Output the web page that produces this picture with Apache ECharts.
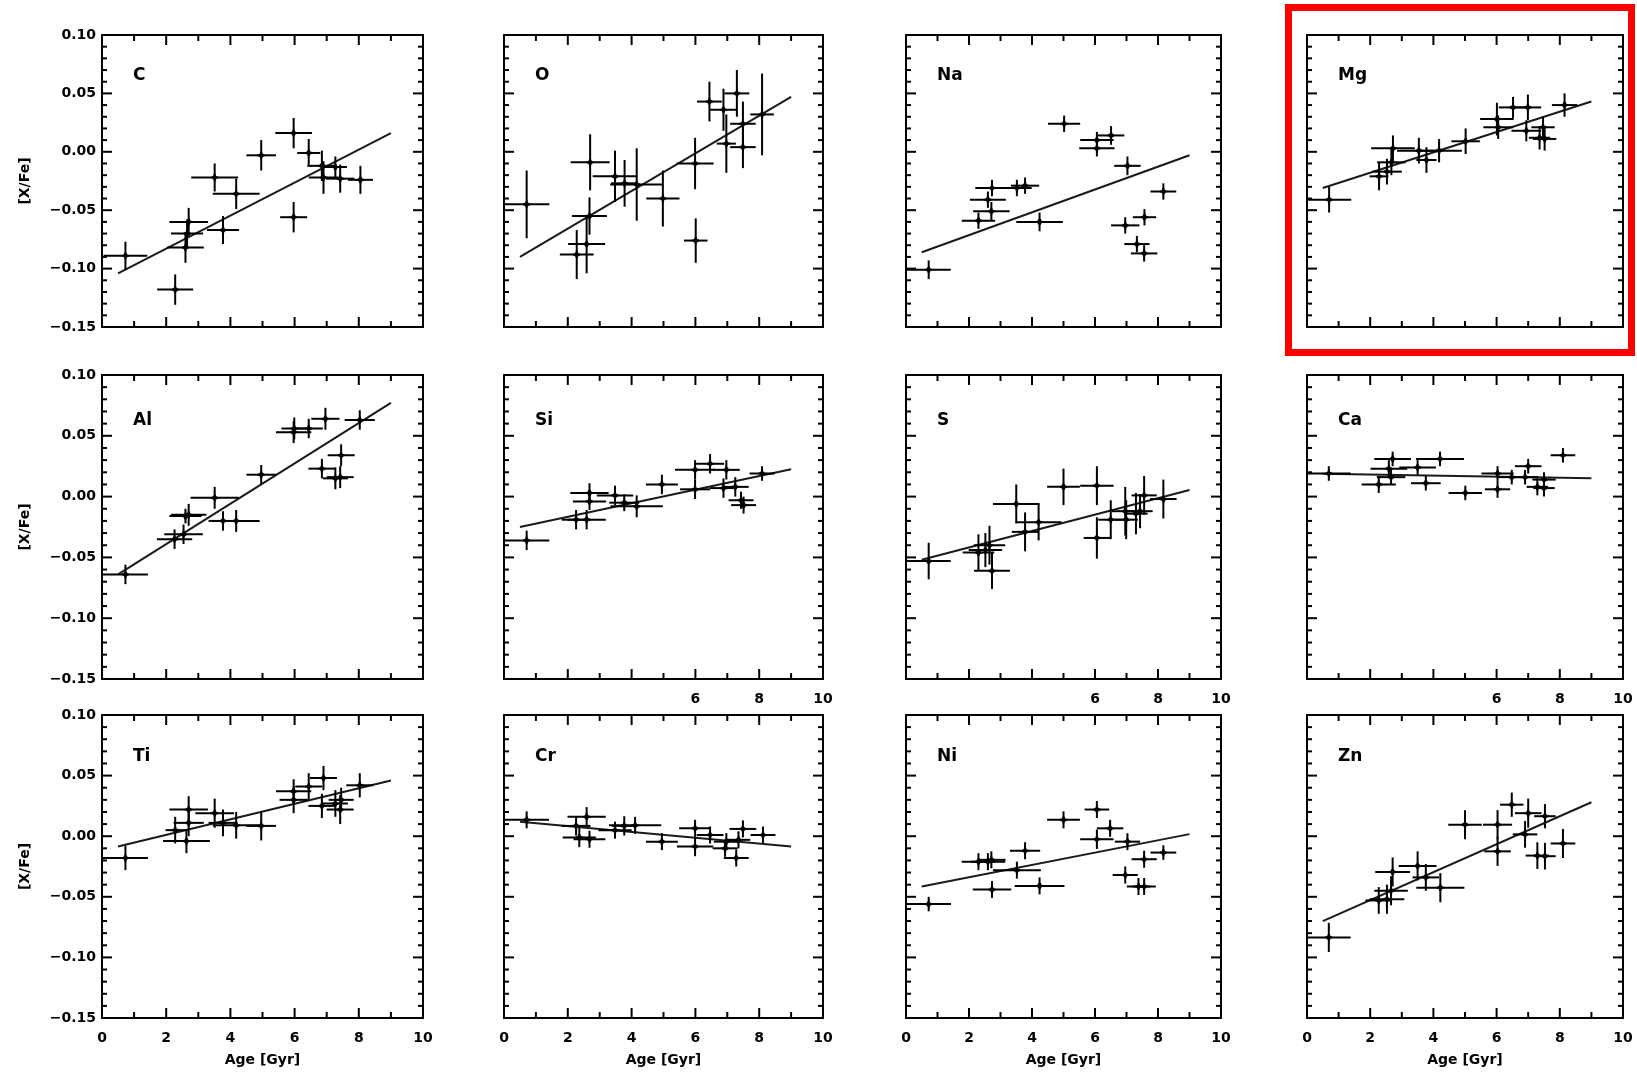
<!DOCTYPE html>
<html><head><meta charset="utf-8">
<script src="https://cdn.jsdelivr.net/npm/echarts@6/dist/echarts.min.js"></script>
<style>html,body{margin:0;padding:0;background:#fff}#c{width:1637px;height:1074px}</style>
</head><body><div id="c"></div><script>
// each point: [age (Gyr), age error, [X/Fe], [X/Fe] error]
const elements = ['C','O','Na','Mg','Al','Si','S','Ca','Ti','Cr','Ni','Zn'];
const xTickLabels = ['0','2','4','6','8','10'];
const yTickLabels = ['\u22120.15','\u22120.10','\u22120.05','0.00','0.05','0.10'];
const xMajorTicks = [0,2,4,6,8,10];
const xMinorTicks = [1,3,5,7,9];
const yMajorTicks = [-0.15,-0.10,-0.05,0.00,0.05,0.10];
const yMinorTicks = [-0.14,-0.13,-0.12,-0.11,-0.09,-0.08,-0.07,-0.06,-0.04,-0.03,-0.02,-0.01,0.01,0.02,0.03,0.04,0.06,0.07,0.08,0.09];

const C_pts = [[0.73,0.68,-0.089,0.012],[2.28,0.56,-0.118,0.013],[2.70,0.60,-0.060,0.012],[2.65,0.50,-0.070,0.012],[2.60,0.57,-0.082,0.013],[3.51,0.73,-0.022,0.012],[4.18,0.73,-0.036,0.013],[3.77,0.50,-0.067,0.012],[4.96,0.46,-0.003,0.013],[5.97,0.57,0.016,0.013],[5.97,0.42,-0.056,0.013],[6.44,0.36,-0.001,0.012],[6.85,0.45,-0.012,0.013],[6.90,0.46,-0.022,0.014],[7.27,0.36,-0.013,0.009],[7.42,0.44,-0.023,0.012],[8.05,0.39,-0.024,0.012]];
const C_fit = [[0.5,-0.104],[9.0,0.016]];
const O_pts = [[0.71,0.71,-0.045,0.029],[2.70,0.61,-0.009,0.024],[2.28,0.53,-0.088,0.021],[2.59,0.58,-0.079,0.025],[2.68,0.55,-0.055,0.016],[3.48,0.70,-0.021,0.022],[3.78,0.42,-0.027,0.020],[4.16,0.83,-0.028,0.031],[4.98,0.52,-0.040,0.024],[5.99,0.58,-0.010,0.022],[6.01,0.37,-0.076,0.019],[6.44,0.39,0.043,0.017],[6.88,0.42,0.036,0.018],[7.30,0.39,0.050,0.020],[6.97,0.30,0.007,0.025],[7.49,0.40,0.024,0.019],[7.49,0.40,0.004,0.018],[8.09,0.37,0.032,0.035]];
const O_fit = [[0.5,-0.090],[9.0,0.047]];
const Na_pts = [[0.72,0.70,-0.101,0.008],[2.30,0.53,-0.059,0.007],[2.60,0.57,-0.041,0.007],[2.71,0.58,-0.051,0.008],[2.73,0.53,-0.031,0.007],[3.52,0.47,-0.031,0.007],[3.78,0.45,-0.029,0.007],[4.24,0.74,-0.060,0.008],[5.02,0.51,0.024,0.007],[6.06,0.53,0.010,0.007],[6.06,0.56,0.003,0.007],[6.51,0.42,0.014,0.008],[7.03,0.42,-0.012,0.008],[6.96,0.45,-0.063,0.007],[7.57,0.37,-0.056,0.007],[7.33,0.40,-0.079,0.007],[7.56,0.42,-0.087,0.007],[8.17,0.41,-0.034,0.007]];
const Na_fit = [[0.5,-0.086],[9.0,-0.003]];
const Mg_pts = [[0.70,0.70,-0.041,0.011],[2.28,0.30,-0.021,0.012],[2.53,0.47,-0.017,0.011],[2.67,0.45,-0.009,0.011],[2.72,0.69,0.003,0.011],[3.54,0.69,0.001,0.011],[3.78,0.32,-0.007,0.011],[4.18,0.72,0.001,0.010],[5.02,0.45,0.009,0.011],[6.01,0.53,0.028,0.014],[6.05,0.47,0.021,0.010],[6.52,0.45,0.038,0.009],[6.99,0.42,0.038,0.011],[6.94,0.47,0.018,0.009],[7.47,0.37,0.021,0.009],[7.36,0.34,0.012,0.010],[7.52,0.37,0.011,0.010],[8.15,0.40,0.040,0.010]];
const Mg_fit = [[0.5,-0.031],[9.0,0.043]];
const Al_pts = [[0.73,0.70,-0.064,0.008],[2.26,0.55,-0.035,0.008],[2.54,0.60,-0.031,0.008],[2.70,0.55,-0.015,0.009],[2.60,0.50,-0.016,0.006],[3.51,0.75,-0.001,0.009],[3.77,0.45,-0.020,0.008],[4.18,0.73,-0.020,0.009],[4.96,0.46,0.018,0.008],[5.97,0.55,0.053,0.009],[5.99,0.40,0.056,0.009],[6.44,0.44,0.056,0.008],[6.96,0.44,0.064,0.009],[6.85,0.42,0.023,0.008],[7.45,0.42,0.034,0.009],[7.27,0.39,0.015,0.009],[7.42,0.42,0.016,0.009],[8.03,0.47,0.063,0.008]];
const Al_fit = [[0.5,-0.064],[9.0,0.077]];
const Si_pts = [[0.71,0.71,-0.036,0.008],[2.26,0.45,-0.019,0.008],[2.59,0.60,-0.019,0.008],[2.68,0.60,0.003,0.008],[2.68,0.52,-0.004,0.007],[3.48,0.57,0.001,0.008],[3.77,0.47,-0.005,0.007],[4.16,0.82,-0.008,0.009],[4.95,0.50,0.010,0.008],[5.99,0.63,0.022,0.008],[5.99,0.47,0.006,0.008],[6.46,0.44,0.027,0.008],[6.97,0.42,0.022,0.008],[6.88,0.42,0.007,0.008],[7.25,0.42,0.008,0.008],[7.43,0.39,-0.003,0.007],[7.51,0.39,-0.007,0.007],[8.09,0.39,0.019,0.006]];
const Si_fit = [[0.5,-0.025],[9.0,0.0225]];
const S_pts = [[0.72,0.70,-0.053,0.015],[2.30,0.50,-0.046,0.015],[2.52,0.53,-0.044,0.014],[2.65,0.50,-0.040,0.016],[2.73,0.57,-0.061,0.015],[3.50,0.74,-0.006,0.016],[3.78,0.42,-0.029,0.016],[4.21,0.73,-0.021,0.015],[5.00,0.52,0.008,0.015],[6.06,0.53,0.009,0.016],[6.06,0.42,-0.034,0.017],[6.50,0.40,-0.019,0.016],[6.96,0.42,-0.012,0.020],[6.99,0.37,-0.019,0.016],[7.30,0.37,-0.014,0.017],[7.43,0.40,-0.012,0.014],[7.56,0.40,0.001,0.016],[8.17,0.42,-0.002,0.016]];
const S_fit = [[0.5,-0.052],[9.0,0.0055]];
const Ca_pts = [[0.69,0.69,0.019,0.006],[2.27,0.54,0.010,0.007],[2.59,0.58,0.023,0.007],[2.71,0.58,0.031,0.006],[2.66,0.45,0.016,0.006],[3.50,0.58,0.024,0.006],[3.76,0.47,0.011,0.006],[4.21,0.76,0.031,0.006],[5.01,0.53,0.003,0.006],[6.03,0.51,0.019,0.006],[6.03,0.40,0.006,0.007],[6.48,0.42,0.016,0.006],[7.00,0.42,0.025,0.006],[6.90,0.42,0.016,0.006],[7.29,0.34,0.008,0.007],[7.50,0.37,0.014,0.006],[7.50,0.34,0.007,0.007],[8.10,0.39,0.034,0.006]];
const Ca_fit = [[0.5,0.0187],[9.0,0.0151]];
const Ti_pts = [[0.73,0.70,-0.018,0.010],[2.28,0.30,0.005,0.011],[2.63,0.73,-0.004,0.010],[2.70,0.60,0.022,0.011],[2.70,0.47,0.011,0.011],[3.51,0.60,0.019,0.012],[3.77,0.45,0.011,0.011],[4.18,0.73,0.009,0.011],[4.96,0.46,0.0085,0.012],[5.97,0.55,0.037,0.010],[5.97,0.44,0.030,0.011],[6.44,0.42,0.041,0.011],[6.90,0.42,0.048,0.010],[6.85,0.42,0.025,0.010],[7.27,0.39,0.027,0.011],[7.42,0.42,0.022,0.012],[7.45,0.39,0.030,0.010],[8.03,0.42,0.042,0.010]];
const Ti_fit = [[0.5,-0.0085],[9.0,0.046]];
const Cr_pts = [[0.71,0.70,0.0135,0.007],[2.26,0.45,0.0085,0.008],[2.59,0.60,0.016,0.008],[2.36,0.52,-0.001,0.008],[2.68,0.50,-0.0025,0.007],[3.48,0.52,0.005,0.007],[3.77,0.39,0.0085,0.008],[4.11,0.82,0.009,0.007],[4.95,0.50,-0.0045,0.007],[5.99,0.50,0.0065,0.007],[5.99,0.57,-0.0085,0.008],[6.46,0.42,0.001,0.007],[6.97,0.39,-0.0045,0.007],[6.93,0.39,-0.010,0.007],[7.28,0.39,-0.018,0.007],[7.49,0.42,0.006,0.007],[7.35,0.37,-0.003,0.007],[8.12,0.39,0.001,0.007]];
const Cr_fit = [[0.5,0.012],[9.0,-0.0085]];
const Ni_pts = [[0.72,0.71,-0.056,0.006],[2.30,0.53,-0.021,0.007],[2.60,0.55,-0.021,0.007],[2.71,0.45,-0.0195,0.007],[2.73,0.61,-0.044,0.007],[3.52,0.76,-0.028,0.007],[3.78,0.48,-0.012,0.007],[4.24,0.79,-0.041,0.007],[5.00,0.52,0.0135,0.007],[6.06,0.39,0.022,0.007],[6.06,0.53,-0.0025,0.008],[6.48,0.42,0.0065,0.007],[7.03,0.40,-0.0045,0.007],[6.96,0.40,-0.032,0.007],[7.38,0.37,-0.0415,0.007],[7.56,0.37,-0.0415,0.007],[7.56,0.40,-0.019,0.007],[8.17,0.41,-0.0135,0.006]];
const Ni_fit = [[0.5,-0.0415],[9.0,0.0017]];
const Zn_pts = [[0.69,0.69,-0.0835,0.012],[2.27,0.42,-0.053,0.011],[2.53,0.55,-0.052,0.012],[2.66,0.53,-0.045,0.012],[2.71,0.55,-0.0295,0.012],[3.50,0.60,-0.0245,0.012],[3.76,0.42,-0.034,0.011],[4.22,0.76,-0.0425,0.012],[5.00,0.53,0.0095,0.012],[6.03,0.46,0.0095,0.012],[6.03,0.42,-0.0125,0.012],[6.48,0.37,0.026,0.010],[7.00,0.42,0.019,0.012],[6.90,0.39,0.0015,0.011],[7.29,0.37,-0.016,0.011],[7.53,0.34,-0.0165,0.011],[7.53,0.34,0.0165,0.010],[8.10,0.39,-0.006,0.012]];
const Zn_fit = [[0.5,-0.070],[9.0,0.028]];

const allPts = [C_pts,O_pts,Na_pts,Mg_pts,Al_pts,Si_pts,S_pts,Ca_pts,Ti_pts,Cr_pts,Ni_pts,Zn_pts];
const allFits = [C_fit,O_fit,Na_fit,Mg_fit,Al_fit,Si_fit,S_fit,Ca_fit,Ti_fit,Cr_fit,Ni_fit,Zn_fit];

const X_MIN = 0, X_MAX = 10, Y_MIN = -0.15, Y_MAX = 0.10;
const colLeft = [102,504,906,1307], colW = [321,319,315,316];
const rowTop = [35,375,715], rowH = [292,304,303];
const labelOff = [32,37,33];
const FONT = 'DejaVu Sans';
const chart = echarts.init(document.getElementById('c'));
const grid = [], xAxis = [], yAxis = [], series = [], title = [];

function renderErr(params, api){
  const x = api.value(0), xe = api.value(1), y = api.value(2), ye = api.value(3);
  const p0 = api.coord([Math.max(X_MIN, x - xe), y]), p1 = api.coord([Math.min(X_MAX, x + xe), y]);
  const q0 = api.coord([x, y - ye]), q1 = api.coord([x, y + ye]);
  const c = api.coord([x, y]);
  const s = 5, w = 1.6;
  return {type:'group', children:[
    {type:'line', shape:{x1:p0[0],y1:p0[1],x2:p1[0],y2:p1[1]}, style:{stroke:'#000',lineWidth:2}},
    {type:'line', shape:{x1:q0[0],y1:q0[1],x2:q1[0],y2:q1[1]}, style:{stroke:'#000',lineWidth:2}},
    {type:'polygon', shape:{points:[[c[0],c[1]-s],[c[0]+w,c[1]-w],[c[0]+s,c[1]],[c[0]+w,c[1]+w],[c[0],c[1]+s],[c[0]-w,c[1]+w],[c[0]-s,c[1]],[c[0]-w,c[1]-w]]}, style:{fill:'#000'}}
  ]};
}

// inward tick marks on all four sides, placed through the panel's own axis scales
function renderTicks(params, api){
  const ch = [];
  const st = {stroke:'#000', lineWidth:2};
  const add = (x1, y1, x2, y2) => ch.push({type:'line', shape:{x1, y1, x2, y2}, style:st});
  const xt = (v, len) => { const b = api.coord([v, Y_MIN]), t = api.coord([v, Y_MAX]);
    add(b[0], b[1], b[0], b[1] - len); add(t[0], t[1], t[0], t[1] + len); };
  const yt = (v, len) => { const l = api.coord([X_MIN, v]), r = api.coord([X_MAX, v]);
    add(l[0], l[1], l[0] + len, l[1]); add(r[0], r[1], r[0] - len, r[1]); };
  xMajorTicks.forEach(v => xt(v, 10));
  xMinorTicks.forEach(v => xt(v, 6));
  yMajorTicks.forEach(v => yt(v, 10));
  yMinorTicks.forEach(v => yt(v, 5));
  return {type:'group', children:ch};
}

function labelFont(){ return {fontSize:14, fontWeight:'bold', color:'#000', fontFamily:FONT}; }

function frameAxis(dim, pos, i, row, col){
  const isX = dim === 'x';
  const primary = (pos === 'bottom' || pos === 'left');
  const o = {gridIndex:i, type:'value', position:pos, z:10};
  if (isX) { o.min = X_MIN; o.max = X_MAX; o.interval = 2; } else { o.min = Y_MIN; o.max = Y_MAX; o.interval = 0.05; }
  o.axisLine = {show:true, onZero:false, lineStyle:{color:'#000', width:2}};
  o.splitLine = {show:false};
  o.axisTick = {show:false};
  if (!primary) { o.axisLabel = {show:false}; return o; }
  const showLab = isX ? (row === 2 || (row === 1 && col > 0)) : col === 0;
  o.axisLabel = Object.assign({show:showLab, margin: isX ? 13 : 6, showMinLabel:true, showMaxLabel:true,
    formatter: isX
      ? (val => { const k = Math.round(val/2); if (row === 1 && k < 3) return ''; return xTickLabels[k]; })
      : (val => yTickLabels[Math.round((val - Y_MIN)/0.05)])}, labelFont());
  const nm = isX ? (row === 2 ? 'Age [Gyr]' : '') : (col === 0 ? '[X/Fe]' : '');
  if (nm) { o.name = nm; o.nameLocation = 'middle'; o.nameGap = isX ? 35 : 70; o.nameTextStyle = labelFont(); }
  return o;
}

elements.forEach((el, i) => {
  const row = Math.floor(i/4), col = i % 4;
  grid.push({left:colLeft[col], top:rowTop[row], width:colW[col], height:rowH[row], show:false});
  xAxis.push(frameAxis('x','bottom',i,row,col), frameAxis('x','top',i,row,col));
  yAxis.push(frameAxis('y','left',i,row,col), frameAxis('y','right',i,row,col));
  const xi = 2*i, yi = 2*i;
  series.push({type:'custom', xAxisIndex:xi, yAxisIndex:yi, data:[[X_MIN, Y_MIN]],
    renderItem:renderTicks, silent:true, z:4});
  series.push({type:'line', xAxisIndex:xi, yAxisIndex:yi, data:allFits[i], symbol:'none',
    lineStyle:{color:'#1a1a1a', width:2}, silent:true, z:2});
  series.push({type:'custom', xAxisIndex:xi, yAxisIndex:yi, data:allPts[i],
    dimensions:['age','ageErr','val','valErr'], encode:{x:0, y:2},
    renderItem:renderErr, silent:true, z:3});
  title.push({text:el, left:colLeft[col]+31, top:rowTop[row]+labelOff[row], padding:0,
    textStyle:{fontSize:17, fontWeight:'bold', color:'#000', fontFamily:FONT}});
});

chart.setOption({
  animation:false,
  title, grid, xAxis, yAxis, series,
  graphic:[{type:'rect', shape:{x:1288.5, y:7.5, width:343, height:345},
    style:{fill:'none', stroke:'#ff0000', lineWidth:7}, z:100}]
});
</script></body></html>
